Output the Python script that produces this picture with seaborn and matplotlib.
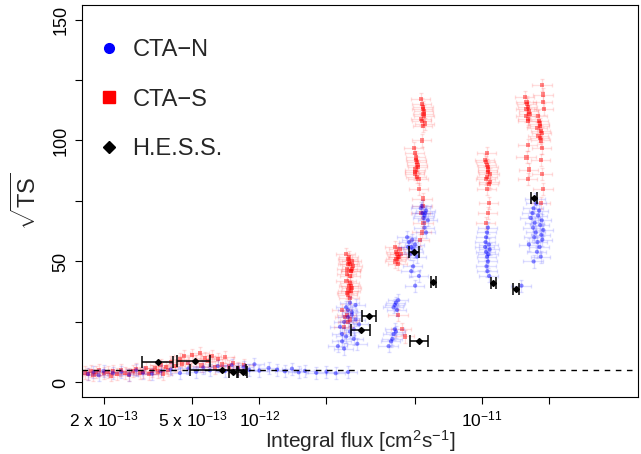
import numpy as np
import pandas as pd
import seaborn as sns
import matplotlib
matplotlib.use("Agg")
import matplotlib.pyplot as plt
from matplotlib.lines import Line2D
from matplotlib.ticker import NullLocator

# integral flux in units of 1e-12 cm^-2 s^-1, significance sqrt(TS)
cta_s_flux = [
    # faint sources
    0.165, 0.17, 0.175, 0.18, 0.185, 0.19, 0.20, 0.21, 0.215, 0.22,
    0.23, 0.24, 0.25, 0.26, 0.27, 0.28, 0.29, 0.30, 0.31, 0.32,
    0.33, 0.34, 0.35, 0.36, 0.37, 0.38, 0.39, 0.40, 0.42, 0.44,
    0.45, 0.46, 0.48, 0.50, 0.52, 0.54, 0.55, 0.57, 0.59, 0.61,
    0.63, 0.65, 0.68, 0.70, 0.73, 0.76, 0.80, 0.85,
    # ~2.5e-12
    2.45, 2.5, 2.55, 2.6, 2.48, 2.58, 2.52, 2.62, 2.47, 2.56, 2.53, 2.6, 2.5, 2.57,
    2.46, 2.52, 2.58, 2.5, 2.55, 2.6, 2.48, 2.54, 2.57, 2.51,
    2.35, 2.42, 2.5, 2.4, 2.47, 2.55,
    # ~4-5.5e-12
    4.05, 4.1, 4.15, 4.2, 4.12, 4.25, 4.08, 4.18, 4.3, 4.22, 4.2, 4.35, 4.5,
    4.95, 5.0, 5.05, 5.1, 5.15, 4.98, 5.08, 5.12, 5.02, 5.18, 5.06, 5.0,
    5.2, 5.4, 5.3, 5.45, 5.35, 5.25, 5.4,
    5.3, 5.35, 5.4, 5.45, 5.5, 5.38, 5.42, 5.48, 5.33, 5.52, 5.44, 5.35,
    # ~1.05e-11
    10.3, 10.5, 10.6, 10.8, 10.4, 10.7, 10.5, 10.6, 10.4, 10.8, 10.55, 10.65,
    10.5, 10.6, 10.4, 10.7,
    # ~1.6-1.9e-11
    15.6, 15.8, 16.0, 16.2, 15.7, 16.1, 15.9, 16.3, 15.8, 16.0,
    16.0, 15.8, 16.2, 16.0,
    17.8, 18.0, 18.2, 18.4, 17.9, 18.3, 18.1, 18.5, 17.7, 18.2,
    18.6, 18.8, 18.7, 18.9, 18.5, 18.4, 18.6, 18.8, 18.3,
]
cta_s_ts = [
    4.1, 3.5, 4.6, 3.2, 4.4, 5.0, 3.8, 4.2, 2.9, 4.8,
    3.6, 5.2, 4.0, 3.3, 4.7, 5.5, 3.9, 4.3, 6.0, 3.4,
    4.9, 5.8, 4.5, 7.2, 3.7, 6.4, 5.1, 8.5, 6.8, 9.5,
    7.6, 10.8, 8.2, 11.5, 9.0, 12.3, 7.0, 10.2, 8.8, 11.0,
    6.2, 9.8, 7.4, 10.5, 6.6, 8.0, 5.9, 7.1,
    53, 51, 49, 50, 47, 46, 52, 48, 45, 44, 50, 47, 49, 46,
    42, 40, 38, 36, 41, 39, 37, 35, 40, 38,
    30, 27, 25, 23, 28, 26,
    56, 54, 53, 52, 51, 55, 50, 49, 53, 52, 28, 22, 19,
    97, 95, 93, 91, 89, 87, 85, 90, 88, 84, 92, 86,
    80, 76, 70, 66, 62, 59, 73,
    117, 115, 113, 111, 110, 108, 106, 112, 109, 107, 114, 100,
    92, 90, 88, 86, 84, 82, 80, 87, 91, 83, 85, 89,
    95, 70, 66, 74,
    118, 116, 114, 112, 110, 108, 115, 111, 113, 109,
    98, 93, 88, 84,
    110, 108, 106, 104, 102, 100, 107, 103, 105, 101,
    123, 119, 116, 113, 97, 92, 86, 80, 74,
]

cta_n_flux = [
    0.17, 0.18, 0.19, 0.20, 0.22, 0.24, 0.26, 0.28, 0.30, 0.33,
    0.36, 0.40, 0.44, 0.48, 0.52, 0.56, 0.60, 0.65, 0.70, 0.75,
    0.80, 0.85, 0.90, 0.95, 1.0, 1.1, 1.2, 1.3, 1.4, 1.5,
    1.6, 1.8, 2.0, 2.2, 2.5,
    2.25, 2.35, 2.45, 2.55, 2.65, 2.75, 2.3, 2.4, 2.5, 2.6,
    2.7, 2.8, 2.45, 2.55, 2.35, 2.65, 2.5, 2.6, 2.4, 2.7,
    3.8, 3.9, 4.0, 4.05, 3.95, 4.1,
    4.0, 4.1, 4.15, 4.05, 4.2,
    4.6, 4.7, 4.8, 4.9, 5.0, 4.75, 4.85, 4.95, 5.1, 4.65,
    4.9, 5.2, 5.0, 4.8,
    5.3, 5.4, 5.5, 5.6, 5.45, 5.7, 5.35, 5.55, 5.5, 5.6,
    10.3, 10.4, 10.5, 10.6, 10.35, 10.45, 10.55, 10.4, 10.5, 10.6, 10.7, 10.8, 10.65, 10.75,
    16.5, 16.8, 17.0, 17.2, 17.5, 17.8, 18.0, 18.2, 18.5, 18.8, 17.1,
    17.4, 17.7, 18.1, 18.4, 16.9, 17.6, 18.3, 17.3, 18.6, 16.2, 17.0, 15.0,
]
cta_n_ts = [
    3.5, 4.2, 3.0, 4.8, 3.8, 4.5, 3.2, 5.0, 4.0, 3.6,
    4.6, 5.4, 3.9, 5.8, 4.4, 6.2, 5.0, 6.8, 4.7, 7.2,
    5.6, 6.4, 5.2, 7.5, 4.9, 6.0, 5.3, 4.6, 5.7, 4.2,
    4.8, 4.0, 4.5, 3.8, 4.3,
    15, 17, 19, 21, 18, 16, 23, 25, 27, 29,
    26, 24, 31, 33, 20, 22, 30, 28, 14, 32,
    15, 17, 20, 22, 18, 21,
    31, 33, 30, 32, 34,
    60, 58, 56, 55, 57, 53, 59, 54, 52, 56,
    48, 44, 40, 46,
    72, 70, 69, 71, 68, 67, 73, 70, 64, 62,
    56, 54, 52, 50, 58, 48, 46, 60, 62, 64, 57, 55, 53, 44,
    68, 70, 72, 66, 74, 69, 71, 65, 67, 63, 60,
    62, 58, 56, 61, 64, 54, 52, 76, 59, 57, 50, 40,
]
cta_flux_relerr = 0.10
cta_ts_err = 2.5

hess_flux = [0.352, 0.516, 0.68, 0.76, 0.84, 2.87, 3.11, 4.95, 5.22, 6.03, 11.2, 14.2, 17.1]
hess_flux_lo = [0.296, 0.429, 0.49, 0.73, 0.80, 2.59, 2.90, 4.71, 4.75, 5.90, 10.9, 13.8, 16.6]
hess_flux_hi = [0.411, 0.603, 0.875, 0.79, 0.88, 3.15, 3.35, 5.22, 5.73, 6.22, 11.5, 14.6, 17.6]
hess_ts = [8.3, 8.7, 5.3, 4.4, 4.2, 21.5, 27.3, 54, 17, 41.7, 41.3, 38.8, 76.4]

ts_threshold = 5

xtick_vals = [2e-13, 5e-13, 1e-12, 2e-12, 5e-12, 1e-11, 2e-11]
xtick_labels = ['2 x 10$^{-13}$', '5 x 10$^{-13}$', '10$^{-12}$', '', '', '10$^{-11}$', '']
ytick_vals = [0, 25, 50, 75, 100, 125, 150]
ytick_labels = ['0', '', '50', '', '100', '', '150']

df = pd.DataFrame({
    'flux': np.concatenate([cta_s_flux, cta_n_flux]) * 1e-12,
    'ts': np.concatenate([cta_s_ts, cta_n_ts]),
    'array': ['CTA-S'] * len(cta_s_flux) + ['CTA-N'] * len(cta_n_flux),
})

sns.set_style("ticks")
plt.rcParams['font.family'] = ['Liberation Sans', 'DejaVu Sans']
plt.rcParams['mathtext.fontset'] = 'custom'
plt.rcParams['mathtext.rm'] = 'Liberation Sans'
plt.rcParams['mathtext.it'] = 'Liberation Sans:italic'
plt.rcParams['mathtext.bf'] = 'Liberation Sans:bold'

fig = plt.figure(figsize=(6.41, 4.54), dpi=100)
ax = fig.add_axes([0.128, 0.1256, 0.8673, 0.8634])

colors = {'CTA-S': 'red', 'CTA-N': 'blue'}
for name, sub in df.groupby('array', sort=False):
    ax.errorbar(sub['flux'], sub['ts'], xerr=sub['flux'] * cta_flux_relerr, yerr=cta_ts_err,
                fmt='none', ecolor=colors[name], alpha=0.13, elinewidth=1, capsize=1.5)

sns.scatterplot(data=df, x='flux', y='ts', hue='array', style='array',
                palette=colors, markers={'CTA-S': 's', 'CTA-N': 'o'},
                s=9, alpha=0.45, linewidth=0, legend=False, ax=ax)

hf = np.array(hess_flux) * 1e-12
xerr = [hf - np.array(hess_flux_lo) * 1e-12, np.array(hess_flux_hi) * 1e-12 - hf]
ax.errorbar(hf, hess_ts, xerr=xerr, fmt='D', color='black', ms=3,
            elinewidth=1.1, capsize=4, capthick=1.1)

ax.axhline(ts_threshold, color='black', lw=1, ls=(0, (4, 4)))

ax.set_xscale('log')
ax.set_xlim(1.6e-13, 5.0e-11)
ax.set_ylim(-6, 156)
ax.set_xticks(xtick_vals)
ax.set_xticklabels(xtick_labels)
ax.xaxis.set_minor_locator(NullLocator())
ax.set_yticks(ytick_vals)
ax.set_yticklabels(ytick_labels, rotation=90, va='center')
ax.tick_params(direction='out', length=5, width=0.8, labelsize=13, colors='black')
ax.tick_params(axis='y', pad=4)
ax.tick_params(axis='x', pad=4, labelsize=12.5)
for sp in ax.spines.values():
    sp.set_color('black')
    sp.set_linewidth(0.8)

ax.set_xlabel('Integral flux [cm$^{2}$s$^{-1}$]', fontsize=15, labelpad=-1)
ax.set_ylabel(r'$\sqrt{\mathrm{TS}}$', fontsize=17, labelpad=8)

handles = [
    Line2D([], [], marker='o', color='blue', ls='none', ms=7),
    Line2D([], [], marker='s', color='red', ls='none', ms=8),
    Line2D([], [], marker='D', color='black', ls='none', ms=6),
]
ax.legend(handles, ['CTA\u2212N', 'CTA\u2212S', 'H.E.S.S.'], loc='upper left',
          bbox_to_anchor=(0.027, 0.912), frameon=False, fontsize=17,
          handlelength=1, handletextpad=0.5, labelspacing=1.15,
          borderpad=0, borderaxespad=0)

fig.savefig('out.png', dpi=100)
